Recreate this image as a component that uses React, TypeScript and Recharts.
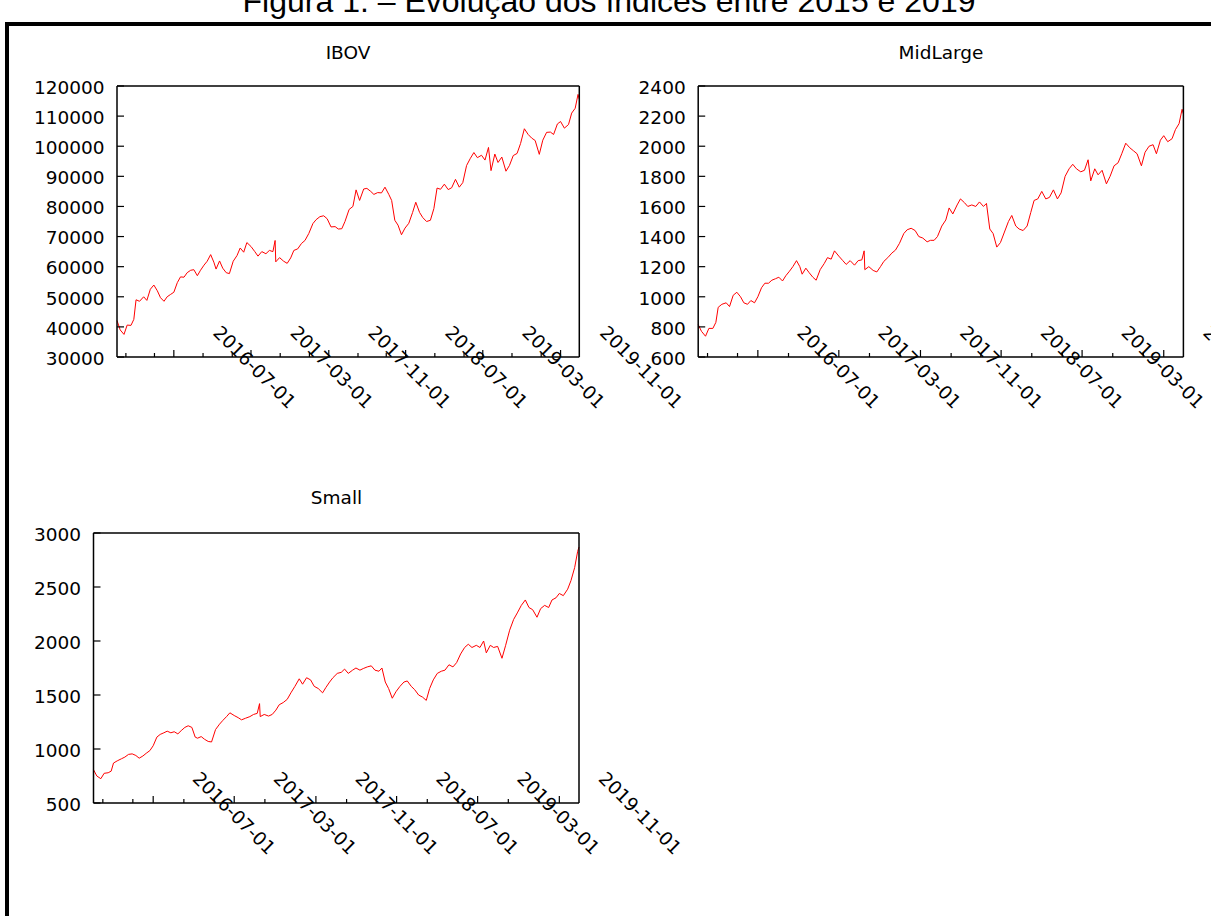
import React from "react";
import { LineChart, Line, XAxis, YAxis } from "recharts";

// Sampled closing dates shared by the three indices (2016–2019)
const dates = [
  "2016-01-04", "2016-01-14", "2016-01-26", "2016-02-05", "2016-02-17", "2016-02-26",
  "2016-03-04", "2016-03-15", "2016-03-28", "2016-04-07", "2016-04-18", "2016-04-29",
  "2016-05-10", "2016-05-20", "2016-05-31", "2016-06-10", "2016-06-21", "2016-07-01",
  "2016-07-12", "2016-07-22", "2016-08-02", "2016-08-12", "2016-08-23", "2016-09-02",
  "2016-09-13", "2016-09-23", "2016-10-04", "2016-10-14", "2016-10-25", "2016-11-04",
  "2016-11-11", "2016-11-22", "2016-12-02", "2016-12-13", "2016-12-23",
  "2017-01-04", "2017-01-16", "2017-01-26", "2017-02-06", "2017-02-16", "2017-03-01",
  "2017-03-13", "2017-03-23", "2017-04-04", "2017-04-17", "2017-04-28", "2017-05-09",
  "2017-05-16", "2017-05-18", "2017-05-30", "2017-06-12", "2017-06-23", "2017-07-04",
  "2017-07-14", "2017-07-26", "2017-08-07", "2017-08-18", "2017-08-30", "2017-09-12",
  "2017-09-22", "2017-10-04", "2017-10-16", "2017-10-27", "2017-11-08", "2017-11-21",
  "2017-12-01", "2017-12-12", "2017-12-22",
  "2018-01-04", "2018-01-16", "2018-01-26", "2018-02-06", "2018-02-19", "2018-03-01",
  "2018-03-13", "2018-03-23", "2018-04-04", "2018-04-16", "2018-04-27", "2018-05-09",
  "2018-05-18", "2018-05-28", "2018-06-07", "2018-06-18", "2018-06-29", "2018-07-11",
  "2018-07-23", "2018-08-02", "2018-08-14", "2018-08-24", "2018-09-05", "2018-09-17",
  "2018-09-28", "2018-10-08", "2018-10-19", "2018-10-31", "2018-11-12", "2018-11-23",
  "2018-12-05", "2018-12-17", "2018-12-28",
  "2019-01-09", "2019-01-21", "2019-02-01", "2019-02-12", "2019-02-25", "2019-03-08",
  "2019-03-19", "2019-03-27", "2019-04-08", "2019-04-18", "2019-04-30", "2019-05-13",
  "2019-05-24", "2019-06-05", "2019-06-17", "2019-06-28", "2019-07-10", "2019-07-22",
  "2019-08-02", "2019-08-13", "2019-08-26", "2019-09-06", "2019-09-18", "2019-09-30",
  "2019-10-10", "2019-10-22", "2019-11-01", "2019-11-13", "2019-11-26", "2019-12-06",
  "2019-12-17", "2019-12-26", "2019-12-30",
];

const ibov = [
  42100, 39000, 37500, 40600, 40500, 42500,
  49000, 48500, 50000, 48800, 52500, 53900,
  52000, 49700, 48500, 50000, 50800, 51500,
  54700, 56600, 56500, 58000, 58800, 59000,
  57000, 58800, 60500, 61800, 64000, 61500,
  59200, 61900, 59500, 58000, 57700,
  61800, 63700, 66200, 64800, 68000, 66700,
  65000, 63500, 65000, 64300, 65400, 65000,
  68700, 61600, 63000, 61800, 61100, 62900,
  65400, 65900, 67700, 68700, 71000, 74300,
  75600, 76600, 76900, 75900, 73200, 73300,
  72500, 72600, 75000,
  79000, 80000, 85500, 82000, 85800, 86000,
  85000, 84000, 84600, 84500, 86400, 84000,
  82000, 75400, 73800, 70600, 72800, 74400,
  78000, 81400, 78000, 76300, 75000, 75400,
  79300, 86100, 85700, 87400, 85600, 86200,
  89000, 86400, 87900,
  93600, 96000, 97900, 96200, 97000, 95400,
  99600, 91900, 97400, 94600, 96400, 91700,
  93600, 96900, 97600, 100900, 105800, 103900,
  102700, 101900, 97300, 102000, 104600, 104700,
  103900, 107400, 108200, 106000, 107200, 111000,
  112600, 117200, 115600,
];

const midLarge = [
  815, 770, 738, 790, 790, 830,
  930, 950, 960, 935, 1010, 1030,
  1000, 960, 950, 975, 960, 1000,
  1060, 1090, 1090, 1110, 1120, 1130,
  1105, 1140, 1170, 1200, 1240, 1200,
  1150, 1190, 1160, 1130, 1110,
  1180, 1220, 1260, 1250, 1305, 1270,
  1240, 1215, 1240, 1210, 1240, 1245,
  1305, 1180, 1200, 1175, 1165, 1200,
  1235, 1260, 1290, 1310, 1355, 1420,
  1445, 1455, 1440, 1400, 1390, 1365,
  1375, 1375, 1400,
  1470, 1510, 1590, 1550, 1610, 1650,
  1625, 1600, 1610, 1600, 1630, 1600,
  1620, 1450, 1420, 1330, 1360, 1430,
  1500, 1540, 1470, 1450, 1440, 1470,
  1560, 1640, 1650, 1700, 1650, 1660,
  1710, 1650, 1690,
  1800, 1850, 1880, 1850, 1830, 1840,
  1910, 1770, 1850, 1810, 1840, 1750,
  1800, 1870, 1890, 1950, 2020, 1990,
  1970, 1950, 1870, 1960, 2000, 2010,
  1950, 2040, 2070, 2030, 2050, 2110,
  2150, 2245, 2215,
];

const small = [
  808, 750, 725, 775, 780, 795,
  870, 890, 910, 925, 950, 955,
  940, 915, 935, 960, 985, 1030,
  1110, 1135, 1150, 1165, 1150, 1160,
  1140, 1170, 1200, 1215, 1200, 1110,
  1100, 1115, 1090, 1070, 1065,
  1180, 1230, 1265, 1300, 1335, 1310,
  1290, 1270, 1285, 1300, 1320, 1330,
  1420, 1300, 1320, 1305, 1320, 1360,
  1410, 1430, 1460, 1520, 1580, 1650,
  1600, 1660, 1640, 1580, 1560, 1520,
  1570, 1620, 1660,
  1700, 1710, 1740, 1700, 1730, 1750,
  1730, 1745, 1760, 1770, 1730, 1720,
  1750, 1620, 1560, 1470, 1530, 1580,
  1620, 1630, 1580, 1550, 1500, 1480,
  1450, 1560, 1640, 1700, 1720, 1730,
  1780, 1760, 1800,
  1880, 1940, 1970, 1940, 1960, 1940,
  2000, 1890, 1960, 1940, 1950, 1840,
  1960, 2100, 2200, 2260, 2330, 2380,
  2310, 2290, 2220, 2300, 2330, 2310,
  2380, 2400, 2440, 2420, 2480, 2560,
  2680, 2830, 2870,
];

const majorDates = ["2016-07-01", "2017-03-01", "2017-11-01", "2018-07-01", "2019-03-01", "2019-11-01"];
const minorDates = [
  "2016-02-01", "2016-05-01", "2016-10-01", "2017-01-01", "2017-06-01", "2017-09-01",
  "2018-02-01", "2018-05-01", "2018-10-01", "2019-01-01", "2019-06-01", "2019-09-01",
];

const ibovTicks = [30000, 40000, 50000, 60000, 70000, 80000, 90000, 100000, 110000, 120000];
const midLargeTicks = [600, 800, 1000, 1200, 1400, 1600, 1800, 2000, 2200, 2400];
const smallTicks = [500, 1000, 1500, 2000, 2500, 3000];

const FONT = "'DejaVu Sans', Verdana, sans-serif";
const FONT_SIZE = 18.5;
const AXIS = { stroke: "#000", strokeWidth: 1.5 };

const toTime = (d: string) => Date.parse(`${d}T00:00:00Z`);
const majorTimes = majorDates.map(toTime);
const xTicks = [...minorDates, ...majorDates].map(toTime).sort((a, b) => a - b);
const xDomain = [toTime(dates[0]), toTime(dates[dates.length - 1])];
const isMajor = (t: number) => majorTimes.includes(t);
const fmtDate = (t: number) => new Date(t).toISOString().slice(0, 10);

// ticks point inward, gnuplot style; date labels are rotated 45° and shifted right
function BottomTick({ x, y, payload }: any) {
  const major = isMajor(payload.value);
  const lx = x + 81;
  const ly = y + 10;
  return (
    <g>
      <line x1={x} x2={x} y1={y} y2={y - (major ? 7 : 4)} stroke="#000" strokeWidth={1.2} />
      {major ? (
        <text
          x={lx}
          y={ly}
          dy="0.36em"
          textAnchor="middle"
          transform={`rotate(45 ${lx} ${ly})`}
          fontFamily={FONT}
          fontSize={FONT_SIZE}
          fill="#000"
        >
          {fmtDate(payload.value)}
        </text>
      ) : null}
    </g>
  );
}

function TopTick({ x, y, payload }: any) {
  const len = isMajor(payload.value) ? 7 : 4;
  return <line x1={x} x2={x} y1={y} y2={y + len} stroke="#000" strokeWidth={1.2} />;
}

function LeftTick({ x, y, payload }: any) {
  return (
    <g>
      <line x1={x} x2={x + 7} y1={y} y2={y} stroke="#000" strokeWidth={1.2} />
      <text x={x - 12.5} y={y} dy="0.42em" textAnchor="end" fontFamily={FONT} fontSize={FONT_SIZE} fill="#000">
        {payload.value}
      </text>
    </g>
  );
}

function RightTick({ x, y }: any) {
  return <line x1={x} x2={x - 7} y1={y} y2={y} stroke="#000" strokeWidth={1.2} />;
}

interface PanelProps {
  title: string;
  values: number[];
  yTicks: number[];
  left: number;
  top: number;
  width: number;
  height: number;
  margin: { top: number; right: number; bottom: number; left: number };
  yAxisWidth: number;
  xAxisHeight: number;
  titleX: number;
  titleY: number;
}

function Panel(p: PanelProps) {
  const data = dates.map((d, i) => ({ t: toTime(d), v: p.values[i] }));
  const yDomain = [p.yTicks[0], p.yTicks[p.yTicks.length - 1]];
  return (
    <>
      <div
        style={{
          position: "absolute",
          left: p.titleX - 100,
          top: p.titleY - 11,
          width: 200,
          textAlign: "center",
          fontFamily: FONT,
          fontSize: FONT_SIZE,
          lineHeight: "22px",
          color: "#000",
        }}
      >
        {p.title}
      </div>
      <div style={{ position: "absolute", left: p.left, top: p.top }}>
        <LineChart width={p.width} height={p.height} data={data} margin={p.margin}>
          <XAxis
            xAxisId="bottom"
            dataKey="t"
            type="number"
            domain={xDomain}
            ticks={xTicks}
            interval={0}
            height={p.xAxisHeight}
            tickSize={0}
            tickMargin={0}
            tickLine={false}
            axisLine={AXIS}
            tick={<BottomTick />}
          />
          <XAxis
            xAxisId="top"
            orientation="top"
            type="number"
            domain={xDomain}
            ticks={xTicks}
            interval={0}
            height={1}
            tickSize={0}
            tickMargin={0}
            tickLine={false}
            axisLine={AXIS}
            tick={<TopTick />}
          />
          <YAxis
            yAxisId="left"
            type="number"
            domain={yDomain}
            ticks={p.yTicks}
            interval={0}
            width={p.yAxisWidth}
            tickSize={0}
            tickMargin={0}
            tickLine={false}
            axisLine={AXIS}
            tick={<LeftTick />}
          />
          <YAxis
            yAxisId="right"
            orientation="right"
            type="number"
            domain={yDomain}
            ticks={p.yTicks}
            interval={0}
            width={1}
            tickSize={0}
            tickMargin={0}
            tickLine={false}
            axisLine={AXIS}
            tick={<RightTick />}
          />
          <Line
            xAxisId="bottom"
            yAxisId="left"
            type="linear"
            dataKey="v"
            stroke="#ff0000"
            strokeWidth={1}
            dot={false}
            isAnimationActive={false}
          />
        </LineChart>
      </div>
    </>
  );
}

export default function App() {
  return (
    <div
      style={{
        position: "absolute",
        left: 0,
        top: 0,
        width: 1211,
        height: 916,
        overflow: "hidden",
        background: "#fff",
      }}
    >
      <div
        style={{
          position: "absolute",
          left: 0,
          top: -15,
          width: 1218,
          textAlign: "center",
          whiteSpace: "nowrap",
          fontFamily: "'Liberation Sans', Arial, sans-serif",
          fontSize: 32,
          lineHeight: "32px",
          color: "#000",
        }}
      >
        Figura 1. – Evolução dos índices entre 2015 e 2019
      </div>
      <div
        style={{
          position: "absolute",
          left: 5,
          top: 22,
          width: 1400,
          height: 1100,
          borderTop: "4px solid #000",
          borderLeft: "4px solid #000",
        }}
      />
      <Panel
        title="IBOV"
        values={ibov}
        yTicks={ibovTicks}
        left={0}
        top={60}
        width={700}
        height={370}
        margin={{ top: 25, right: 119.7, bottom: 3, left: 17 }}
        yAxisWidth={100}
        xAxisHeight={70}
        titleX={348}
        titleY={52.5}
      />
      <Panel
        title="MidLarge"
        values={midLarge}
        yTicks={midLargeTicks}
        left={600}
        top={60}
        width={700}
        height={370}
        margin={{ top: 25, right: 115.6, bottom: 3, left: 18.2 }}
        yAxisWidth={80}
        xAxisHeight={70}
        titleX={941}
        titleY={52.5}
      />
      <Panel
        title="Small"
        values={small}
        yTicks={smallTicks}
        left={0}
        top={500}
        width={700}
        height={370}
        margin={{ top: 32, right: 120, bottom: 3, left: 13.5 }}
        yAxisWidth={80}
        xAxisHeight={64}
        titleX={336.5}
        titleY={498}
      />
    </div>
  );
}
